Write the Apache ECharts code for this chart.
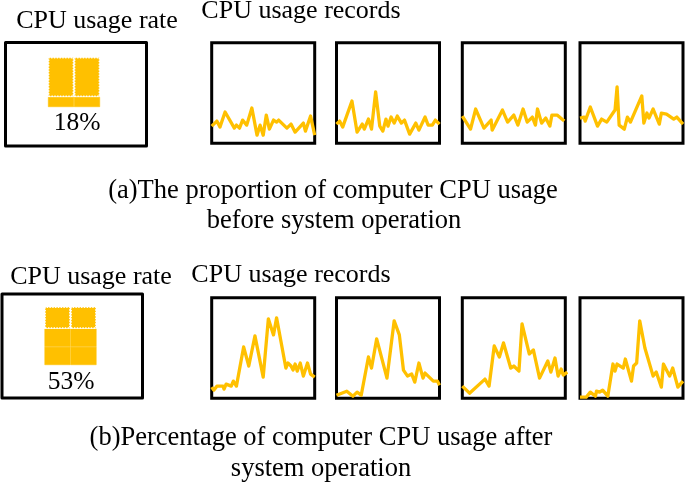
<!DOCTYPE html>
<html>
<head>
    <meta charset="utf-8">
    <title>CPU usage</title>
    <style>
        html, body { margin: 0; padding: 0; background: #fff; }
        #main { width: 685px; height: 484px; }
    </style>
    <script src="https://cdn.jsdelivr.net/npm/echarts@6/dist/echarts.min.js"></script>
</head>
<body>
<div id="main"></div>
<script type="text/javascript">
// usage records, x = position across the panel, y = usage (both 0-100)
var a1x = [0,5,8,13,22,24,27,30,34,39,44,47,50,53,56,60,63,65,73,77,81,89,91,96,100];
var a1y = [17,22,16,31,15,18,15,23,18,35,8,18,8,28,14,23,21,23,15,19,11,20,12,27,8];
var a2x = [0,3,6,15,20,25,27,31,34,38,42,45,48,50,53,56,59,63,66,71,77,80,86,89,93,96,100];
var a2y = [19,22,16,42,11,19,14,24,14,51,17,12,24,17,26,20,27,20,23,9,20,13,26,18,18,23,19];
var a3x = [0,8,13,21,28,29,39,44,50,54,59,63,68,71,73,77,81,85,87,92,99];
var a3y = [27,14,34,15,23,13,33,21,28,18,34,21,26,18,34,20,25,17,28,28,22];
var a4x = [0,4,5,10,17,21,26,34,36,38,43,46,49,60,62,65,67,71,77,79,84,91,94,100];
var a4y = [25,26,22,36,17,24,21,33,56,18,14,26,21,47,20,30,25,34,19,30,29,24,26,19];
var b1x = [0,2,5,11,12,14,19,21,24,31,36,42,50,55,60,63,72,74,77,79,81,83,86,89,93,96,100];
var b1y = [11,8,12,12,9,14,12,17,12,51,32,62,21,79,63,80,30,35,32,28,34,27,35,22,35,24,21];
var b2x = [0,10,16,20,24,31,34,39,49,56,61,65,69,73,76,80,84,86,94,98,100];
var b2y = [3,7,2,6,3,41,30,59,20,77,63,28,22,24,16,35,20,25,17,17,13];
var b3x = [0,7,22,26,31,36,40,47,50,55,58,65,69,75,83,86,90,93,96,98,102];
var b3y = [12,5,19,12,52,41,55,30,32,27,74,44,48,20,37,26,40,22,29,23,26];
var b4x = [0,6,10,15,16,19,22,27,32,34,36,42,44,50,52,55,58,63,71,74,79,81,87,90,95,100];
var b4y = [1,1,6,2,7,6,8,2,34,27,34,30,39,17,32,35,77,50,22,26,11,34,22,30,11,17];

// blocks of the usage icon, bottom to top
var iconColumns = ['left', 'right'];
var iconA = [20, 80];
var iconB = [31, 31, 38];

var rateLabel = 'CPU usage rate';
var recordLabel = 'CPU usage records';
var rateA = '18%';
var rateB = '53%';
var captionA = ['(a)The proportion of computer CPU usage', 'before system operation'];
var captionB = ['(b)Percentage of computer CPU usage after', 'system operation'];

var YELLOW = '#FFC000';
var SERIF = '"Liberation Serif", serif';

var myChart = echarts.init(document.getElementById('main'));

var grids = [], xAxes = [], yAxes = [], series = [], graphics = [];

function pairs(xs, ys) {
    return xs.map(function (x, i) { return [x, ys[i]]; });
}

function addRecord(name, left, top, xs, ys) {
    var idx = grids.length;
    grids.push({ show: true, left: left, top: top, width: 103, height: 100.5, borderColor: '#000', borderWidth: 3, backgroundColor: 'transparent' });
    xAxes.push({ gridIndex: idx, type: 'value', min: 0, max: 100, show: false });
    yAxes.push({ gridIndex: idx, type: 'value', min: 0, max: 100, show: false });
    series.push({
        name: name, type: 'line', xAxisIndex: idx, yAxisIndex: idx, clip: false, z: 3,
        showSymbol: false, silent: true, data: pairs(xs, ys),
        lineStyle: { color: YELLOW, width: 3.3, join: 'round' }
    });
}

function addIcon(name, left, top, width, height, blocks) {
    var idx = grids.length;
    grids.push({ left: left, top: top, width: width, height: height });
    xAxes.push({ gridIndex: idx, type: 'category', data: iconColumns, show: false });
    yAxes.push({ gridIndex: idx, type: 'value', min: 0, max: 100, show: false });
    blocks.forEach(function (v, i) {
        var top = i === blocks.length - 1;
        series.push({
            name: name + i, type: 'bar', stack: name, xAxisIndex: idx, yAxisIndex: idx,
            barWidth: '100%', silent: true, data: [v, v],
            itemStyle: top
                ? { color: YELLOW, borderColor: '#fff', borderWidth: 1.4, borderType: 'dotted' }
                : { color: YELLOW, borderColor: YELLOW, borderWidth: 0.5 }
        });
    });
}

function addText(str, x, y, size) {
    graphics.push({
        type: 'text', x: x, y: y, silent: true,
        style: { text: str, fill: '#000', font: size + 'px ' + SERIF, textAlign: 'center', textVerticalAlign: 'middle' }
    });
}

function addFrame(x, y, w, h) {
    graphics.push({
        type: 'rect', silent: true,
        shape: { x: x, y: y, width: w, height: h },
        style: { fill: 'none', stroke: '#000', lineWidth: 3, lineJoin: 'round' }
    });
}

// top row
addRecord('a1', 211.7, 42.7, a1x, a1y);
addRecord('a2', 336.5, 42.7, a2x, a2y);
addRecord('a3', 462.3, 42.7, a3x, a3y);
addRecord('a4', 580, 42.7, a4x, a4y);
addIcon('iconA', 48, 57, 52, 50, iconA);
addFrame(5.5, 42.5, 141, 103.5);
addText(rateLabel, 97, 21, 26);
addText(recordLabel, 301, 11, 26);
addText(rateA, 77, 123, 25.5);
addText(captionA[0], 333, 191, 26.5);
addText(captionA[1], 334, 221, 26.5);

// bottom row
addRecord('b1', 211.7, 297.7, b1x, b1y);
addRecord('b2', 336.5, 297.7, b2x, b2y);
addRecord('b3', 462.3, 297.7, b3x, b3y);
addRecord('b4', 580, 297.7, b4x, b4y);
addIcon('iconB', 44.5, 306.5, 52, 58.5, iconB);
addFrame(2, 294, 140.5, 104);
addText(rateLabel, 91, 277, 26);
addText(recordLabel, 291, 275, 26);
addText(rateB, 71, 382, 25.5);
addText(captionB[0], 321, 438, 26.5);
addText(captionB[1], 321, 469, 26.5);

myChart.setOption({
    animation: false,
    backgroundColor: '#fff',
    grid: grids,
    xAxis: xAxes,
    yAxis: yAxes,
    series: series,
    graphic: graphics
});
</script>
</body>
</html>
